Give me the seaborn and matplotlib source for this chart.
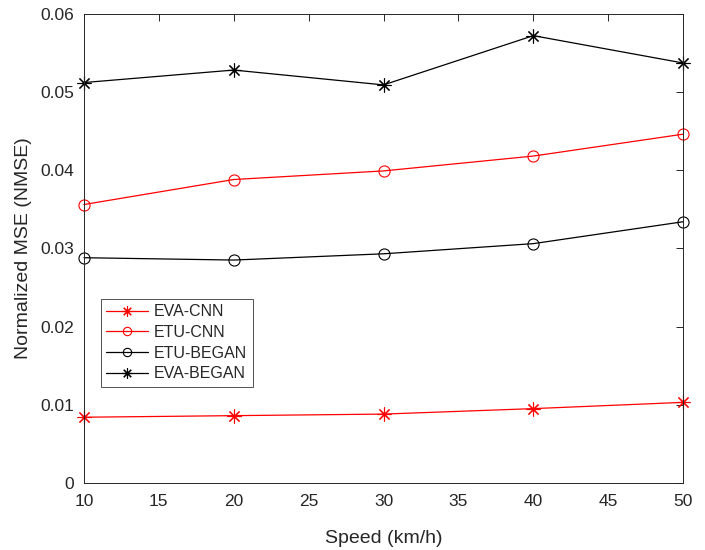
import pandas as pd
import seaborn as sns
import matplotlib.pyplot as plt

speed = [10, 20, 30, 40, 50]
eva_cnn = [0.0084, 0.0086, 0.0088, 0.0095, 0.0103]
etu_cnn = [0.0356, 0.0388, 0.0399, 0.0418, 0.0446]
etu_began = [0.0288, 0.0285, 0.0293, 0.0306, 0.0334]
eva_began = [0.0512, 0.0528, 0.0509, 0.0572, 0.0537]

names = ["EVA-CNN", "ETU-CNN", "ETU-BEGAN", "EVA-BEGAN"]
colors = {"EVA-CNN": "red", "ETU-CNN": "red", "ETU-BEGAN": "black", "EVA-BEGAN": "black"}
markers = {"EVA-CNN": (8, 2, 0), "ETU-CNN": "o", "ETU-BEGAN": "o", "EVA-BEGAN": (8, 2, 0)}
msizes = {"EVA-CNN": 10, "ETU-CNN": 8, "ETU-BEGAN": 8, "EVA-BEGAN": 10}


def get_frame():
    parts = []
    for name, vals in zip(names, [eva_cnn, etu_cnn, etu_began, eva_began]):
        parts.append(pd.DataFrame({"speed": speed, "nmse": vals, "model": name}))
    return pd.concat(parts, ignore_index=True)


def makeplot(data):
    sns.set_style("white")
    plt.rcParams["font.family"] = ["Liberation Sans", "DejaVu Sans"]
    fig = plt.figure(figsize=(7.05, 5.5), dpi=100)
    ax = fig.add_axes([0.119, 0.122, 0.850, 0.853])

    for name in names:
        sub = data[data["model"] == name]
        sns.lineplot(data=sub, x="speed", y="nmse", ax=ax, color=colors[name],
                     marker=markers[name], markersize=msizes[name], markerfacecolor="none",
                     markeredgecolor=colors[name], markeredgewidth=0.8,
                     linewidth=0.9, label=name, clip_on=False)

    ax.set_xlim(10, 50)
    ax.set_ylim(0, 0.06)
    ax.set_xticks(range(10, 51, 5))
    ax.set_yticks([0, 0.01, 0.02, 0.03, 0.04, 0.05, 0.06])
    ax.set_yticklabels(["0", "0.01", "0.02", "0.03", "0.04", "0.05", "0.06"])
    ax.tick_params(direction="in", top=True, right=True, length=5, width=0.7,
                   colors="#262626", labelsize=12.5)
    ax.tick_params(axis="x", pad=8)
    ax.tick_params(axis="y", pad=7)
    for s in ax.spines.values():
        s.set_color("#262626")
        s.set_linewidth(0.7)
    ax.set_xlabel("Speed (km/h)", fontsize=14, color="#262626", labelpad=15)
    ax.set_ylabel("Normalized MSE (NMSE)", fontsize=14, color="#262626", labelpad=6)

    leg = ax.legend(loc="lower left", bbox_to_anchor=(0.028, 0.205), fontsize=11.5,
                    frameon=True, fancybox=False, edgecolor="#262626",
                    handlelength=2.6, borderpad=0.35, labelspacing=0.35,
                    borderaxespad=0, markerscale=0.75, handletextpad=0.4)
    leg.get_frame().set_linewidth(0.7)

    fig.savefig("out.png", dpi=100)
    return fig


if __name__ == "__main__":
    makeplot(get_frame())
